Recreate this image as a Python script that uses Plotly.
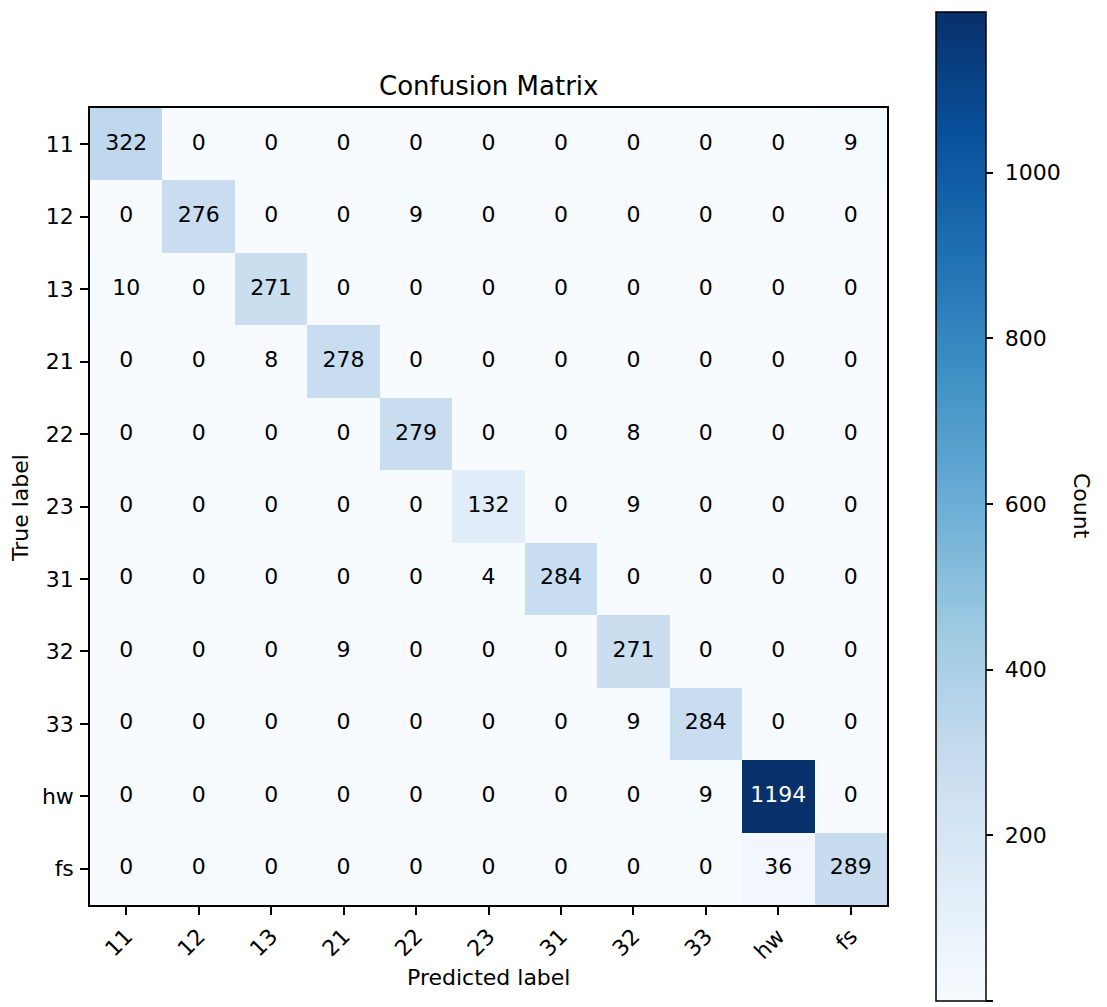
import plotly.graph_objects as go
import plotly.colors as pc

# Class labels (same order on both axes)
classes = ["11", "12", "13", "21", "22", "23", "31", "32", "33", "hw", "fs"]

# Confusion matrix counts: rows = true label, columns = predicted label
row_11 = [322, 0, 0, 0, 0, 0, 0, 0, 0, 0, 9]
row_12 = [0, 276, 0, 0, 9, 0, 0, 0, 0, 0, 0]
row_13 = [10, 0, 271, 0, 0, 0, 0, 0, 0, 0, 0]
row_21 = [0, 0, 8, 278, 0, 0, 0, 0, 0, 0, 0]
row_22 = [0, 0, 0, 0, 279, 0, 0, 8, 0, 0, 0]
row_23 = [0, 0, 0, 0, 0, 132, 0, 9, 0, 0, 0]
row_31 = [0, 0, 0, 0, 0, 4, 284, 0, 0, 0, 0]
row_32 = [0, 0, 0, 9, 0, 0, 0, 271, 0, 0, 0]
row_33 = [0, 0, 0, 0, 0, 0, 0, 9, 284, 0, 0]
row_hw = [0, 0, 0, 0, 0, 0, 0, 0, 9, 1194, 0]
row_fs = [0, 0, 0, 0, 0, 0, 0, 0, 0, 36, 289]

matrix = [row_11, row_12, row_13, row_21, row_22, row_23,
          row_31, row_32, row_33, row_hw, row_fs]

colorbar_ticks = [0, 200, 400, 600, 800, 1000]

FONT = "DejaVu Sans"
zmax = max(max(r) for r in matrix)

# Blues colormap with evenly spaced stops
blues = pc.sequential.Blues
scale = [[i / (len(blues) - 1), c] for i, c in enumerate(blues)]

# Plot-area geometry in pixels
W, H = 1107, 1007
L, R, T, B = 90, 887, 108, 905
pw, ph = R - L, B - T
n = len(classes)

fig = go.Figure()

fig.add_trace(go.Heatmap(
    z=matrix, x=classes, y=classes,
    colorscale=scale, zmin=-0.01, zmax=zmax,
    xgap=0, ygap=0, hoverinfo="skip",
    colorbar=dict(
        thicknessmode="pixels", thickness=50,
        lenmode="pixels", len=989,
        x=(936 - L) / pw, xanchor="left", xpad=0,
        y=(B - 12) / ph, yanchor="top", ypad=0,
        outlinewidth=1.5, outlinecolor="black",
        tickvals=colorbar_ticks,
        ticktext=["\u00a0" + str(v) for v in colorbar_ticks],
        ticks="outside", ticklen=7,
        tickwidth=1.5, tickcolor="black",
        tickfont=dict(family=FONT, size=22, color="black"),
    ),
))

# Cell value labels: white on dark cells, black elsewhere
tx, ty, tt, tc = [], [], [], []
for i, row in enumerate(matrix):
    for j, v in enumerate(row):
        tx.append(classes[j])
        ty.append(classes[i])
        tt.append(str(v))
        tc.append("white" if v > zmax / 2 else "black")

fig.add_trace(go.Scatter(
    x=tx, y=ty, text=tt, mode="text",
    textfont=dict(family=FONT, size=22, color=tc),
    hoverinfo="skip", showlegend=False,
))

axis_common = dict(
    type="category", showgrid=False, zeroline=False,
    showline=True, linecolor="black", linewidth=1.5, mirror=True,
    ticks="outside", ticklen=8, tickwidth=1.5, tickcolor="black",
    tickfont=dict(family=FONT, size=22, color="black"),
)

fig.update_xaxes(**axis_common, tickangle=-45, range=[-0.5, n - 0.5],
                 autorange=False)
fig.update_yaxes(**axis_common, range=[n - 0.5, -0.5], autorange=False,
                 ticklabelstandoff=2)

fig.update_layout(
    width=W, height=H,
    margin=dict(l=L, r=W - R, t=T, b=H - B, pad=0),
    plot_bgcolor="white", paper_bgcolor="white",
    showlegend=False,
    font=dict(family=FONT, color="black"),
    annotations=[
        dict(text="Confusion Matrix", xref="paper", yref="paper",
             x=0.5, y=(B - 86) / ph, xanchor="center", yanchor="middle",
             showarrow=False, font=dict(family=FONT, size=26, color="black")),
        dict(text="Predicted label", xref="paper", yref="paper",
             x=0.5, y=(B - 977) / ph, xanchor="center", yanchor="middle",
             showarrow=False, font=dict(family=FONT, size=22, color="black")),
        dict(text="True label", xref="paper", yref="paper",
             x=(20 - L) / pw, y=(B - 508) / ph, xanchor="center", yanchor="middle",
             textangle=-90, showarrow=False,
             font=dict(family=FONT, size=22, color="black")),
        dict(text="Count", xref="paper", yref="paper",
             x=(1082 - L) / pw, y=(B - 506) / ph, xanchor="center", yanchor="middle",
             textangle=90, showarrow=False,
             font=dict(family=FONT, size=22, color="black")),
    ],
)

fig.write_html("out.html")
